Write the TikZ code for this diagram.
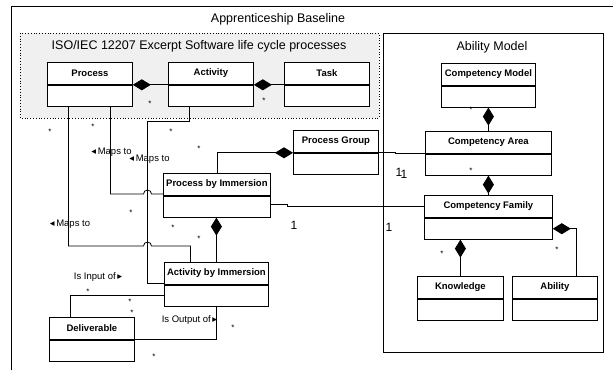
\documentclass[tikz,border=0pt]{standalone}
\usepackage{fontspec}
\setmainfont{Liberation Sans}
\newfontfamily\symfont{DejaVu Sans}
\usetikzlibrary{positioning,arrows.meta}

% class box: name, left, top, width, label
\newcommand{\umlclass}[5]{%
  \node[classhead, minimum width=#4, anchor=north west] (#1h) at (#2,#3) {#5};
  \node[classbody, minimum width=#4, below=0pt of #1h] (#1b) {};
}

\begin{document}
\begin{tikzpicture}[x=1pt, y=-1pt, line width=0.8pt,
  classhead/.style={draw, fill=white, minimum height=22pt, inner sep=0pt,
    font=\fontsize{9.5}{11}\selectfont\bfseries},
  classbody/.style={draw, fill=white, minimum height=21pt, inner sep=0pt},
  comp/.style={-{Diamond[length=18pt,width=11pt]}},
  mult/.style={font=\fontsize{8}{9}\selectfont, inner sep=0pt, anchor=base, yshift=-4.5pt},
  role/.style={font=\fontsize{9.5}{11}\selectfont, inner sep=0pt},
  card/.style={font=\fontsize{12}{13}\selectfont, inner sep=0pt},
  pkgtitle/.style={font=\fontsize{12.5}{14}\selectfont, inner sep=0pt}]
\fill[white] (0,0) rectangle (613,370);
\useasboundingbox (0,0) rectangle (613,370);

% Draw packages.
\draw (11,370) -- (11,6) -- (613,6);
\node[pkgtitle] (baseline) at (278,19) {Apprenticeship Baseline};

\draw[dotted, fill=gray!12] (20,33) rectangle (379,118);
\node[pkgtitle] (iso) at (199,46) {ISO/IEC 12207 Excerpt Software life cycle processes};

\draw (383,33) rectangle (603,352);
\node[pkgtitle] (abmodel) at (492,47) {Ability Model};

% Draw classes.
\umlclass{proc}{47}{62}{85pt}{Process}
\umlclass{act}{168}{62}{85pt}{Activity}
\umlclass{task}{284}{62}{85pt}{Task}
\umlclass{pg}{293}{130}{85pt}{Process Group}
\umlclass{pbi}{163}{173}{107pt}{Process by Immersion}
\umlclass{abi}{164}{262}{104pt}{Activity by Immersion}
\umlclass{del}{49}{317}{85pt}{Deliverable}

\umlclass{cm}{441}{63}{94pt}{Competency Model}
\umlclass{ca}{425}{131}{126pt}{Competency Area}
\umlclass{cf}{424}{195}{128pt}{Competency Family}
\umlclass{kn}{417}{276}{86pt}{Knowledge}
\umlclass{ab}{512}{276}{85pt}{Ability}

% Draw compositions.
\draw[comp] (acth.south west) -- (proch.south east);
\draw[comp] (taskh.south west) -- (acth.south east);
\draw[comp] (pbih.north) |- (pgh.south west);
\draw[comp] (abih.north) -- (abih.north |- pbib.south);
\draw[comp] (cah.north) -- (cmb.south);
\draw[comp] (cfh.north) -- (cab.south);
\draw[comp] (knh.north) -- (knh.north |- cfb.south);
\draw[comp] ([xshift=21.5pt]abh.north) |- (cfb.east);

% Draw associations.
\draw (pgh.south east) -- ++(17,0) |- (cah.south west);
\draw ([yshift=2pt]pbib.east) -- ++(17,0) |- (cfh.west);

\coordinate (hop1) at (147.5,194);
\coordinate (hop2) at (147.5,246);
\coordinate (actbend) at (147.5,121);
\draw ([xshift=20.5pt]procb.south) |- ([xshift=-4pt]hop1)
  arc[start angle=180, end angle=0, radius=4pt] -- (pbih.west |- hop1);
\draw ([xshift=-21.5pt]procb.south) |- ([xshift=-4pt]hop2)
  arc[start angle=180, end angle=0, radius=4pt] -| ([xshift=-26pt]abih.north);
\draw ([xshift=-21.5pt]actb.south) |- (actbend) |- ([yshift=1pt]abih.south west);
\draw (abib.west) -| ([xshift=-21.5pt]delh.north);
\draw (abib.south) |- (delh.south east);

% Draw role names.
\node[role] (maps1) at (111.5,152) {{\symfont ◂}\,Maps to};
\node[role] (maps2) at (149.5,159) {{\symfont ◂}\,Maps to};
\node[role] (maps3) at (70,224) {{\symfont ◂}\,Maps to};
\node[role] (input) at (98,277) {Is Input of\,{\symfont ▸}};
\node[role] (output) at (189.5,320) {Is Output of\,{\symfont ▸}};

% Draw multiplicities.
\node[mult] (m1) at (150,102) {*};
\node[mult] (m2) at (264,99) {*};
\node[mult] (m3) at (50,130) {*};
\node[mult] (m4) at (93,125) {*};
\node[mult] (m5) at (171,130) {*};
\node[mult] (m6) at (199,147) {*};
\node[mult] (m7) at (131,211) {*};
\node[mult] (m8) at (173,226) {*};
\node[mult] (m9) at (199,237) {*};
\node[mult] (m10) at (88,290) {*};
\node[mult] (m11) at (130,300) {*};
\node[mult] (m12) at (132,311) {*};
\node[mult] (m13) at (233,326) {*};
\node[mult] (m14) at (154,355) {*};
\node[mult] (m15) at (471,108) {*};
\node[mult] (m16) at (471,169) {*};
\node[mult] (m17) at (442,252) {*};
\node[mult] (m18) at (557,248) {*};

\node[card] (c1) at (399,172) {1};
\node[card] (c2) at (404,174) {1};
\node[card] (c3) at (294,225) {1};
\node[card] (c4) at (389,227) {1};

\end{tikzpicture}
\end{document}
